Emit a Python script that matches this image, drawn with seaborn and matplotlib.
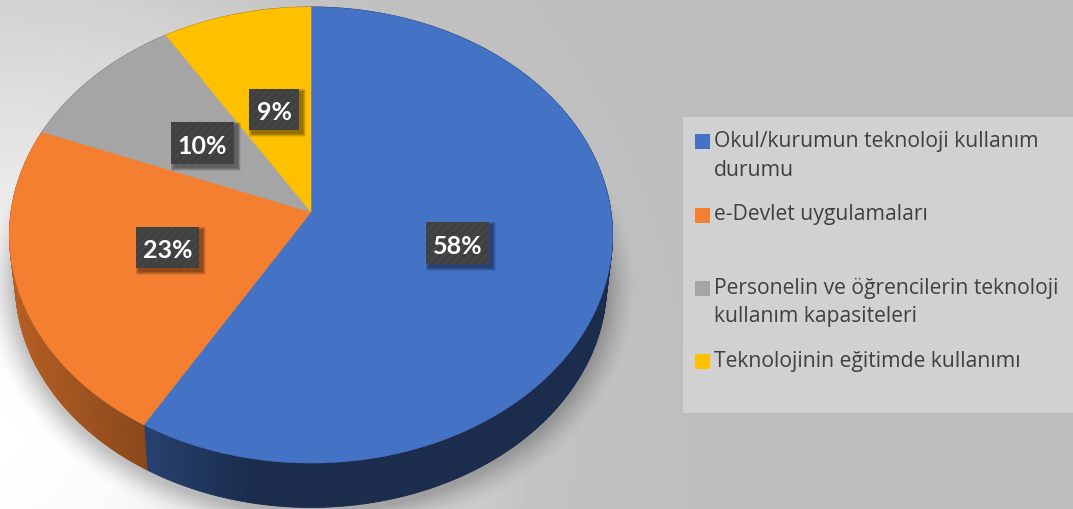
import numpy as np
import matplotlib
matplotlib.use("Agg")
import matplotlib.pyplot as plt
import seaborn as sns
from matplotlib.legend_handler import HandlerPatch
from matplotlib.patches import Polygon, Rectangle

categories = ['Okul/kurumun teknoloji kullanım\ndurumu',
              'e-Devlet uygulamaları\n ',
              'Personelin ve öğrencilerin teknoloji\nkullanım kapasiteleri',
              'Teknolojinin eğitimde kullanımı\n ']
shares = [58.5, 22.5, 10.2, 8.8]
share_labels = ['58%', '23%', '10%', '9%']
colors = sns.color_palette(['#4472c4', '#f47f30', '#a5a5a5', '#ffc000'])

# label boxes: left, top, right, bottom in pixels
boxes = [(426, 222, 489, 264), (136, 227, 199, 268), (171, 122, 234, 164), (249, 89, 299, 130)]

W, H = 1073, 509
APEX_X, APEX_Y = 311, 212
TILT, SCALE_X, SCALE_Y = 0.1009, 300, 225.7

sns.set_theme(style="white")
plt.rcParams['hatch.linewidth'] = 0.8


def top_face(theta):
    # unit circle seen in perspective, theta in degrees
    x, y = np.cos(np.radians(theta)), np.sin(np.radians(theta))
    d = 1 + TILT * y
    return APEX_X + SCALE_X * x / d, APEX_Y - SCALE_Y * y / d


def bottom_face(theta, grow=0.0, down=0.0):
    px, py = top_face(theta)
    bx = APEX_X + 0.98 * (px - APEX_X)
    by = 284 + 0.98 * (py - 235)
    # push outward for the soft shadow
    dx, dy = bx - APEX_X, by - 284
    n = np.hypot(dx, dy)
    return bx + grow * dx / n, by + grow * dy / n + down


def raised_swatch(legend, orig_handle, xdescent, ydescent, width, height, fontsize):
    # swatch sits on the first text line, not in the middle of the entry
    return Rectangle((-xdescent, -ydescent + 10.5), width, height)


fig = plt.figure(figsize=(W / 100, H / 100), dpi=100)
ax = fig.add_axes([0, 0, 1, 1])

wedges, _ = ax.pie(shares, colors=colors, startangle=90, counterclock=False)
ax.set_aspect('auto')
ax.set_xlim(0, W)
ax.set_ylim(H, 0)
ax.axis('off')

# grey background, light in the lower left
yy, xx = np.mgrid[0:H, 0:W]
dist = np.hypot(xx, yy - 440)
shade = np.interp(dist, [0, 120, 240, 440, 540, 700], [255, 250, 235, 210, 194, 190])
ax.imshow(shade, cmap='gray', vmin=0, vmax=255, extent=(0, W, H, 0), aspect='auto', zorder=0)

# soft shadow under the pie
ring = np.linspace(0, 360, 361)
for grow in np.arange(28, 0, -2):
    alpha = 0.006 + 0.022 * (1 - grow / 28)
    sx, sy = bottom_face(ring, grow=grow, down=4)
    ax.add_patch(Polygon(np.column_stack([sx, sy]), fc='black', ec='none', alpha=alpha, zorder=1))

# rim and top face of each slice, angles come from ax.pie
for wedge, color in zip(wedges, colors):
    t1, t2 = wedge.theta1, wedge.theta2
    wedge.remove()
    steps = np.linspace(t1, t2, max(int(t2 - t1) * 2, 4))
    for a, b in zip(steps[:-1], steps[1:]):
        ax_, ay_ = top_face(np.array([a, b]))
        bx_, by_ = bottom_face(np.array([a, b]))
        f = np.interp(ax_.mean(), [15, 147, 250, 613], [0.74, 0.56, 0.39, 0.39])
        side = tuple(np.array(color) * f)
        ax.add_patch(Polygon([(ax_[0], ay_[0]), (ax_[1], ay_[1]), (bx_[1], by_[1]), (bx_[0], by_[0])],
                             fc=side, ec=side, lw=0.6, zorder=2))

for wedge, color in zip(wedges, colors):
    arc = np.linspace(wedge.theta1, wedge.theta2, 200)
    px, py = top_face(arc)
    pts = np.column_stack([np.r_[APEX_X, px], np.r_[APEX_Y, py]])
    ax.add_patch(Polygon(pts, fc=color, ec=color, lw=0.4, zorder=3))

# percentage labels on dark boxes
for (x0, y0, x1, y1), text in zip(boxes, share_labels):
    for off in np.arange(7, 0, -1):
        ax.add_patch(Rectangle((x0 + 3 - off / 2, y0 + 3 - off / 2), x1 - x0 + off, y1 - y0 + off,
                               fc='black', ec='none', alpha=0.07, zorder=4))
    ax.add_patch(Rectangle((x0, y0), x1 - x0, y1 - y0, fc='#404040', ec='#4a4a4a', lw=0,
                           hatch='////', zorder=5))
    ax.text((x0 + x1) / 2, (y0 + y1) / 2 + 3, text, color='white', fontsize=18, fontweight='bold',
            family='Lato', ha='center', va='center', zorder=6)

# legend panel
ax.add_patch(Rectangle((683, 117), W - 683, 296, fc='#d1d1d1', ec='none', zorder=1))
handles = [Rectangle((0, 0), 1, 1, fc=c, ec='none') for c in colors]
leg = ax.legend(handles, categories, loc='upper left', bbox_to_anchor=(695 / W, 1 - 131 / H),
                frameon=False, handlelength=0.7, handleheight=0.7, handletextpad=0.2,
                labelspacing=1.12, borderpad=0, borderaxespad=0,
                handler_map={Rectangle: HandlerPatch(patch_func=raised_swatch)},
                prop={'family': 'Open Sans', 'size': 15.2})
for t in leg.get_texts():
    t.set_color('#404040')
    t.set_linespacing(1.48)

fig.savefig('out.png', dpi=100)
